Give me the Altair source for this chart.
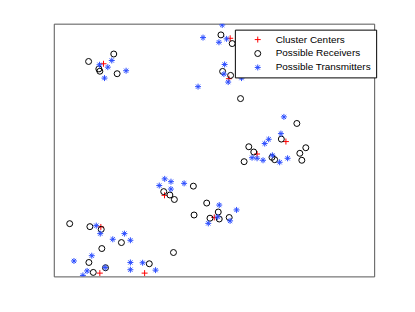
import altair as alt
import pandas as pd

series_names = ["Cluster Centers", "Possible Receivers", "Possible Transmitters"]

centers_x = [50, 177.3, 176, 233.3, 204.3, 111.3, 161.3, 47.3, 46.3, 91.3]
centers_y = [213.7, 239.3, 198.7, 135.5, 123, 81.5, 59.3, 49.7, 3.3, 3.3]

receivers_x = [35, 60.3, 45.3, 46.3, 63.7, 168, 179.3, 169.7, 177.7, 187.7,
               244.3, 228.7, 196, 201, 191.3, 219.3, 222, 253.3, 247.3, 249.3,
               140.3, 153.7, 165.3, 141, 157, 166.3, 176.3, 110.5, 116.7, 121.2,
               16, 36.3, 47.7, 68, 48.3, 120.3, 35.3, 52, 96, 39.7]
receivers_y = [216, 223.5, 208.5, 206.2, 203.7, 242.7, 234, 206, 202, 178.7,
               153.7, 138, 130.3, 125, 115.3, 119.7, 117.3, 129.3, 123.7, 116.7,
               90.7, 73.7, 64.7, 61.7, 58.5, 57.7, 59.2, 85.2, 81.8, 77.3,
               53, 50, 47.3, 34, 28, 24, 14, 8.7, 12.7, 4]

transmitters_x = [46, 58.3, 54.3, 72.7, 51, 150, 145, 169.3, 166, 173.7,
                  171.7, 171, 175.3, 188.7, 231.3, 228.3, 216, 212, 199.3, 204.3,
                  210.3, 219.7, 227, 235, 131, 166.3, 183.7, 164.7, 177.2, 155.3,
                  111.5, 117.8, 106, 117.7, 42.7, 46.7, 71, 59.3, 77, 38.2,
                  20.3, 77, 89.3, 51.7, 33.5, 77, 102.3, 29.3]
transmitters_y = [212.7, 217, 210.3, 206.7, 199.3, 240, 190.7, 252.7, 235.3, 238.7,
                  213, 203.3, 195.3, 199.3, 160.3, 143.5, 137.8, 133.5, 119.3, 118.7,
                  116.7, 121.7, 114.7, 118.7, 93.5, 71.7, 66.8, 59.7, 55.8, 53.3,
                  98, 95.2, 91.3, 87.8, 51, 43, 43, 37.3, 36.3, 20.8,
                  15.5, 14, 13.7, 9, 5.5, 6.7, 6.3, 1]

rows = []
for xs, ys, name in [(centers_x, centers_y, series_names[0]),
                     (receivers_x, receivers_y, series_names[1]),
                     (transmitters_x, transmitters_y, series_names[2])]:
    for a, b in zip(xs, ys):
        rows.append({"x": a, "y": b, "series": name})
df = pd.DataFrame(rows)

plus_path = "M-1,0L1,0M0,-1L0,1"
star_path = "M-1,0L1,0M0,-1L0,1M-0.7,-0.7L0.7,0.7M-0.7,0.7L0.7,-0.7"

chart = alt.Chart(df).mark_point(
    filled=False, size=36, strokeWidth=1, opacity=1, clip=True
).encode(
    x=alt.X("x:Q", scale=alt.Scale(domain=[0, 322], nice=False, zero=False), axis=None),
    y=alt.Y("y:Q", scale=alt.Scale(domain=[0, 254], nice=False, zero=False), axis=None),
    color=alt.Color("series:N",
                    scale=alt.Scale(domain=series_names, range=["#ff0000", "#000000", "#2a4dff"]),
                    legend=alt.Legend(title=None)),
    shape=alt.Shape("series:N",
                    scale=alt.Scale(domain=series_names, range=[plus_path, "circle", star_path]),
                    legend=alt.Legend(title=None)),
).properties(
    width=322, height=254,
    padding={"left": 46, "top": 15, "right": 30, "bottom": 27},
).configure_view(
    stroke="#555555", strokeWidth=1
).configure_legend(
    orient="none", legendX=182, legendY=6,
    padding=5, symbolOffset=13, labelOffset=13, rowPadding=4,
    strokeColor="#000000", fillColor="#ffffff",
    labelFont="Liberation Sans", labelFontSize=10, labelColor="#000000",
    symbolSize=36, symbolStrokeWidth=1,
)

chart.save("out.html", embed_options={"renderer": "svg", "actions": False})
